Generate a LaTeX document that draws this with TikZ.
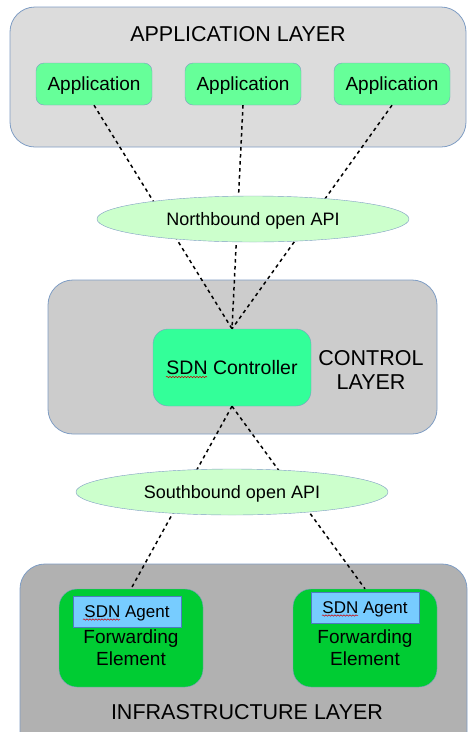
\documentclass[tikz,border=0pt]{standalone}
\usepackage{fontspec}
\setmainfont{Liberation Sans}
\usetikzlibrary{positioning,shapes.geometric,decorations.pathmorphing}

\definecolor{boxline}{HTML}{7F9DC4}
\definecolor{agentline}{HTML}{4C7CC0}
\definecolor{applayerfill}{HTML}{DCDCDC}
\definecolor{ctrllayerfill}{HTML}{CCCCCC}
\definecolor{infralayerfill}{HTML}{B1B1B1}
\definecolor{appfill}{HTML}{66FF99}
\definecolor{ctrlfill}{HTML}{33FF99}
\definecolor{apifill}{HTML}{CCFFCC}
\definecolor{fefill}{HTML}{00CC33}
\definecolor{agentfill}{HTML}{77CCFF}

\tikzset{
  layer/.style={draw=boxline, line width=0.8pt, rounded corners=25pt},
  layertitle/.style={font=\fontsize{21.5}{24}\selectfont, align=center, inner sep=0pt},
  app/.style={draw=boxline, fill=appfill, rounded corners=8pt, minimum width=116pt,
    minimum height=42pt, text depth=0pt, font=\fontsize{19}{22}\selectfont},
  api/.style={ellipse, draw=boxline, fill=apifill, minimum width=312pt, minimum height=46pt,
    inner sep=0pt, text depth=0pt, font=\fontsize{18}{21}\selectfont},
  controller/.style={draw=boxline, fill=ctrlfill, rounded corners=15pt, minimum width=158pt,
    minimum height=77pt, font=\fontsize{19.5}{22}\selectfont},
  fwd/.style={draw=boxline, fill=fefill, rounded corners=18pt, minimum width=144pt,
    minimum height=98pt},
  fwdtext/.style={font=\fontsize{19}{22}\selectfont, align=center, inner sep=0pt},
  agent/.style={draw=agentline, fill=agentfill, minimum width=108pt, minimum height=31pt,
    inner sep=0pt, text depth=0pt, font=\fontsize{17}{20}\selectfont},
  link/.style={line width=1.5pt, dash pattern=on 3.5pt off 3.5pt},
  typo/.style={red!80!black, line width=0.5pt, decorate,
    decoration={snake, amplitude=0.7pt, segment length=3pt}}
}

\begin{document}
\begin{tikzpicture}[x=1pt,y=-1pt,on grid]
\useasboundingbox (0,0) rectangle (468,732);
\clip (0,0) rectangle (468,732);

\node[layer, fill=applayerfill, minimum width=456pt, minimum height=140pt] (applayer) at (238,77) {};
\node[layertitle, below=20pt of applayer.north] (apptitle) {APPLICATION LAYER};
\node[app] (app2) at (243,84) {Application};
\node[app, left=149pt of app2] (app1) {Application};
\node[app, right=149pt of app2] (app3) {Application};

\node[layer, fill=ctrllayerfill, minimum width=389pt, minimum height=154pt] (ctrllayer) at (242.5,357) {};
\node[controller] (ctrl) at (232,367.5) {SDN Controller};
\node[layertitle] (ctrltitle) at (371,370) {CONTROL\\LAYER};

\node[layer, fill=infralayerfill, minimum width=447pt, minimum height=206pt] (infralayer) at (243.5,667) {};
\node[layertitle] (infratitle) at (247,712) {INFRASTRUCTURE LAYER};
\node[fwd] (fe1) at (131,638) {};
\node[fwd] (fe2) at (365,638) {};
\node[fwdtext, below=10pt of fe1] (fe1text) {Forwarding\\Element};
\node[fwdtext, below=10pt of fe2] (fe2text) {Forwarding\\Element};
\node[agent, above=26.5pt of fe1, xshift=-4pt] (agent1) {SDN Agent};
\node[agent, above=30.5pt of fe2] (agent2) {SDN Agent};

\draw[link] (app1.south) -- (ctrl.north);
\draw[link] (app2.south) -- (ctrl.north);
\draw[link] (app3.south) -- (ctrl.north);
\draw[link] (ctrl.south) -- (fe1.north);
\draw[link] (ctrl.south) -- (fe2.north);

\node[api] (nbapi) at (253,219) {Northbound open API};
\node[api] (sbapi) at (232,492) {Southbound open API};

\draw[typo] ([shift={(-66,9.5)}]ctrl.center) -- ++(41,0);
\draw[typo] ([shift={(-44,8)}]agent1.center) -- ++(37,0);
\draw[typo] ([shift={(-43,8)}]agent2.center) -- ++(36,0);
\end{tikzpicture}
\end{document}
